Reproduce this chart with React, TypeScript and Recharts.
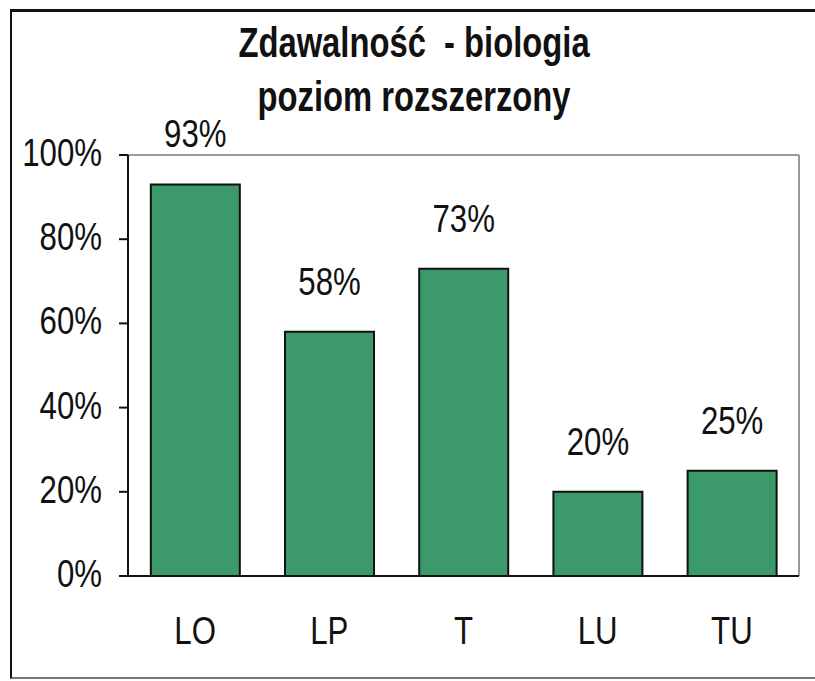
import React from "react";
import {
  BarChart,
  Bar,
  XAxis,
  YAxis,
  LabelList,
  ReferenceLine,
} from "recharts";

const categories = ["LO", "LP", "T", "LU", "TU"];
const values = [0.93, 0.58, 0.73, 0.2, 0.25];
const yTicks = [0, 0.2, 0.4, 0.6, 0.8, 1];
const boundaryTicks = [0, 1, 2, 3, 4, 5];
const titleLines = ["Zdawalność  - biologia", "poziom rozszerzony"];

const data = categories.map((c, i) => ({ name: c, value: values[i], idx: i + 0.5 }));

const FONT = '"Liberation Sans", Arial, sans-serif';
const FS = 39;
const SX = 0.8;
const pct = (v: number) => `${Math.round(v * 100)}%`;

const NarrowText = ({ x, y, anchor, children }: any) => (
  <text
    transform={`translate(${x},${y}) scale(${SX},1)`}
    x={0}
    y={0}
    textAnchor={anchor}
    fill="#111"
    fontSize={FS}
    fontFamily={FONT}
  >
    {children}
  </text>
);

const YTick = (props: any) => {
  const { x, y, payload } = props;
  return <NarrowText x={x} y={y + 11} anchor="end">{pct(payload.value)}</NarrowText>;
};

const XTick = (props: any) => {
  const { x, y, payload } = props;
  return <NarrowText x={x} y={y + 68} anchor="middle">{payload.value}</NarrowText>;
};

const BarLabel = (props: any) => {
  const { x, y, width, value } = props;
  return <NarrowText x={Number(x) + Number(width) / 2} y={Number(y) - 37} anchor="middle">{pct(Number(value))}</NarrowText>;
};

export default function App() {
  return (
    <div style={{ position: "absolute", left: 0, top: 0, width: 815, height: 681, background: "#fff", fontFamily: FONT }}>
      <div
        style={{
          position: "absolute",
          left: 10,
          top: 9,
          width: 805,
          height: 670,
          borderTop: "3px solid #111",
          borderLeft: "2px solid #111",
          borderBottom: "2px solid #777",
          boxSizing: "border-box",
        }}
      />
      <div style={{ position: "absolute", left: 0, top: 0 }}>
        <BarChart
          width={815}
          height={681}
          data={data}
          margin={{ top: 155, right: 16, bottom: 0, left: 0 }}
          barCategoryGap="17%"
        >
          <XAxis
            xAxisId="bounds"
            type="number"
            dataKey="idx"
            domain={[0, 5]}
            ticks={boundaryTicks}
            tick={false}
            tickSize={9}
            tickLine={{ stroke: "#111", strokeWidth: 2 }}
            axisLine={false}
            height={0}
            allowDataOverflow
          />
          <XAxis
            xAxisId="cat"
            dataKey="name"
            tickLine={false}
            tickSize={0}
            tickMargin={0}
            axisLine={false}
            tick={<XTick />}
            height={105}
            interval={0}
          />
          <YAxis
            yAxisId="left"
            domain={[0, 1]}
            ticks={yTicks}
            tickSize={9}
            tickMargin={17}
            tickLine={{ stroke: "#111", strokeWidth: 2 }}
            axisLine={{ stroke: "#111", strokeWidth: 2 }}
            tick={<YTick />}
            width={128}
            interval={0}
          />
          <ReferenceLine y={1} yAxisId="left" xAxisId="bounds" stroke="#9a9a9a" strokeWidth={2} />
          <ReferenceLine x={5} yAxisId="left" xAxisId="bounds" stroke="#9a9a9a" strokeWidth={2} />
          <ReferenceLine y={0} yAxisId="left" xAxisId="bounds" stroke="#111" strokeWidth={2} />
          <Bar
            dataKey="value"
            xAxisId="cat"
            yAxisId="left"
            fill="#3C9A6A"
            stroke="#111"
            strokeWidth={2}
            isAnimationActive={false}
          >
            <LabelList dataKey="value" content={<BarLabel />} />
          </Bar>
        </BarChart>
      </div>
      <svg width={815} height={140} style={{ position: "absolute", left: 0, top: 0 }}>
        {titleLines.map((t, i) => (
          <text
            key={t}
            transform={`translate(414,${57 + i * 54}) scale(0.78,1)`}
            textAnchor="middle"
            fontSize={42}
            fontWeight="bold"
            fontFamily={FONT}
            fill="#111"
            style={{ whiteSpace: "pre" }}
          >
            {t}
          </text>
        ))}
      </svg>
    </div>
  );
}
